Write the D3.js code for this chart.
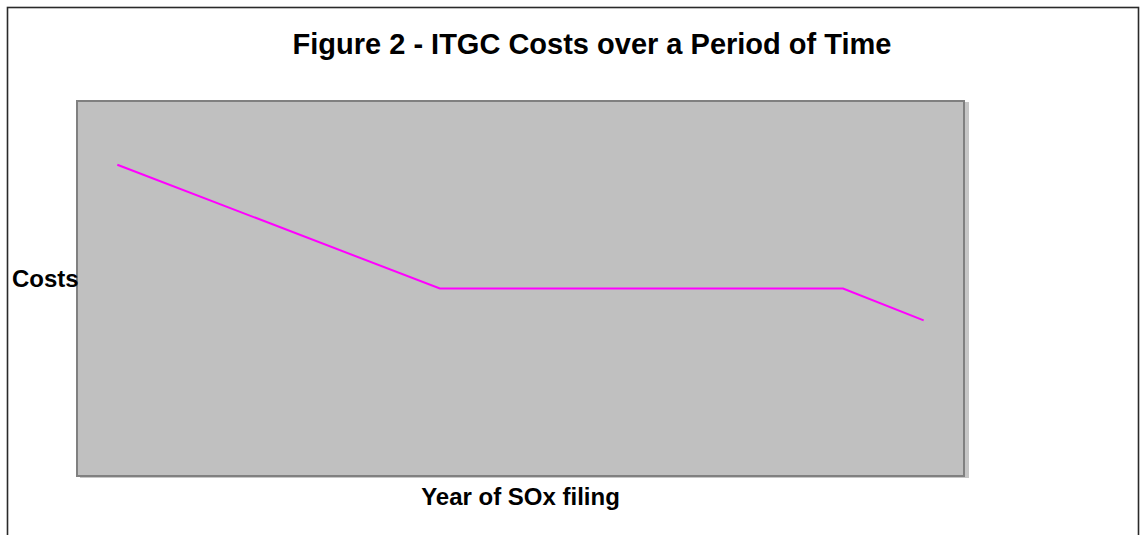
<!DOCTYPE html>
<html>
<head>
<meta charset="utf-8">
<script src="https://cdn.jsdelivr.net/npm/d3@7"></script>
<style>
  body { margin: 0; background: #fff; }
  text { font-family: "Liberation Sans", Arial, sans-serif; font-weight: bold; fill: #000; }
</style>
</head>
<body>
<div id="chart-area"></div>
<script>
// data (no tick labels shown, so periods are 1..11)
var periods = [1, 2, 3, 4, 5, 6, 7, 8, 9, 10, 11];
var linePeriods = [1, 5, 10, 11];
var lineCosts = [83, 50, 50, 41.5];

var titleText = "Figure 2 - ITGC Costs over a Period of Time";
var xTitle = "Year of SOx filing";
var yTitle = "Costs";

var width = 1140, height = 535;
var plot = { left: 77, top: 101, right: 964, bottom: 476 };

var svg = d3.select("#chart-area")
    .append("svg")
        .attr("width", width)
        .attr("height", height);

// outer frame (bottom edge runs off the page)
svg.append("rect")
    .attr("x", 7.5)
    .attr("y", 7.5)
    .attr("width", 1131)
    .attr("height", 600)
    .attr("fill", "none")
    .attr("stroke", "#2a2a2a")
    .attr("stroke-width", 1.6);

// scales
var x = d3.scalePoint()
    .domain(periods)
    .range([plot.left, plot.right])
    .padding(0.5);

var y = d3.scaleLinear()
    .domain([0, 100])
    .range([plot.bottom, plot.top]);

// plot area shadow + background
svg.append("rect")
    .attr("x", plot.left + 3)
    .attr("y", plot.top + 1)
    .attr("width", plot.right - plot.left + 2)
    .attr("height", plot.bottom - plot.top + 1)
    .attr("fill", "#c6c6c6");

svg.append("rect")
    .attr("x", plot.left)
    .attr("y", plot.top)
    .attr("width", plot.right - plot.left)
    .attr("height", plot.bottom - plot.top)
    .attr("fill", "#c0c0c0")
    .attr("stroke", "#808080")
    .attr("stroke-width", 2);

// the cost line
var line = d3.line()
    .x(function(d, i){ return x(linePeriods[i]); })
    .y(function(d){ return y(d); });

svg.append("path")
    .datum(lineCosts)
    .attr("d", line)
    .attr("fill", "none")
    .attr("stroke", "#ff00ff")
    .attr("stroke-width", 2);

// texts
svg.append("text")
    .attr("x", 592)
    .attr("y", 54)
    .attr("text-anchor", "middle")
    .style("font-size", "29px")
    .text(titleText);

svg.append("text")
    .attr("x", (plot.left + plot.right) / 2)
    .attr("y", 505)
    .attr("text-anchor", "middle")
    .style("font-size", "24px")
    .text(xTitle);

svg.append("text")
    .attr("x", 12)
    .attr("y", 287)
    .style("font-size", "24px")
    .text(yTitle);
</script>
</body>
</html>
